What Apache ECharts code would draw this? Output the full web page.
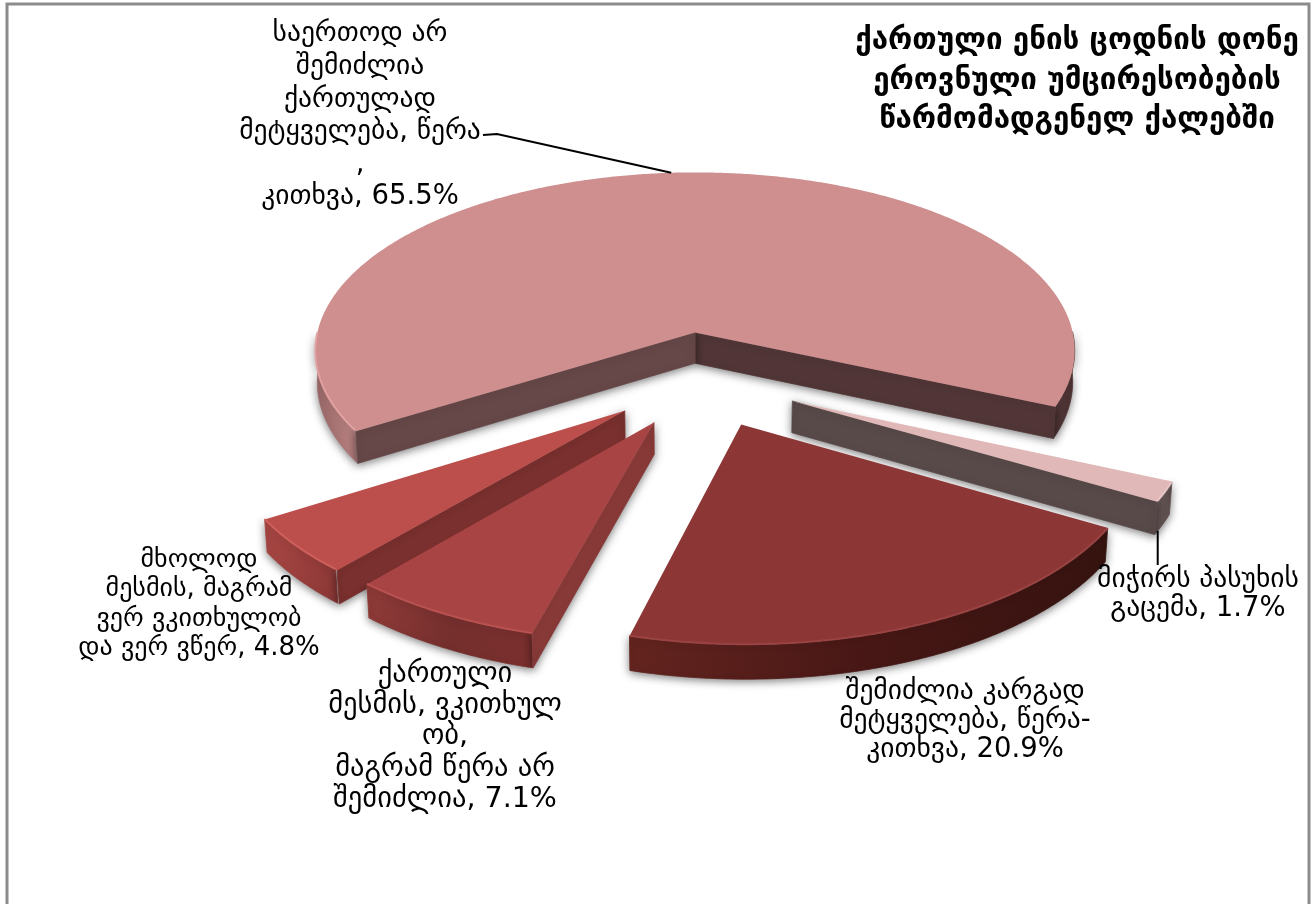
<!DOCTYPE html>
<html>
<head>
<meta charset="utf-8">
<title>ქართული ენის ცოდნის დონე</title>
<style>
html, body { margin: 0; padding: 0; background: #fff; }
#main { width: 1312px; height: 904px; }
</style>
<script src="https://cdn.jsdelivr.net/npm/echarts@6/dist/echarts.min.js"></script>
</head>
<body>
<div id="main"></div>
<script>
var chartTitle = 'ქართული ენის ცოდნის დონე\nეროვნული უმცირესობების\nწარმომადგენელ ქალებში';
var categories = [
    'საერთოდ არ\nშემიძლია\nქართულად\nმეტყველება, წერა\n,\nკითხვა, 65.5%',
    'მიჭირს პასუხის\nგაცემა, 1.7%',
    'შემიძლია კარგად\nმეტყველება, წერა-\nკითხვა, 20.9%',
    'ქართული\nმესმის, ვკითხულ\nობ,\nმაგრამ წერა არ\nშემიძლია, 7.1%',
    'მხოლოდ\nმესმის, მაგრამ\nვერ ვკითხულობ\nდა ვერ ვწერ, 4.8%'
];
var values = [65.5, 1.7, 20.9, 7.1, 4.8];

// the look of each slice, same order as values
var topColors = ['#cf8f8f', '#e0b8b8', '#8c3636', '#a84444', '#bc4f4c'];
var edgeColors = ['#eba9a9', '#efd0d0', '#a04848', '#c05656', '#d66460'];
var cutColors = [['#523637', '#674849'], ['#594a4a'], [], ['#893a38'], ['#7a302e']];
// first run is the right hand one for the big slice
var rimColors = [
    [['#523637', '#4c3233'], ['#9a6868', '#b98181']],
    [['#6a5a5a', '#5c4c4c']],
    [['#64241f', '#471715', '#36130f']],
    [['#8f3a38', '#752f2d', '#7a2f2d']],
    [['#a84643', '#8c3836']]
];
// where the labels sit: centre x, top y, line height, font size
var labelBoxes = [
    { x: 360, y: 18, lh: 32.6, fs: 27.5 },
    { x: 1198, y: 565, lh: 29.5, fs: 27.5 },
    { x: 965, y: 677, lh: 29, fs: 27.5 },
    { x: 445, y: 659, lh: 31.2, fs: 28.5 },
    { x: 199, y: 545, lh: 29.5, fs: 26 }
];
// leader lines start here and run to the rim of the slice, at a share of the arc
var leaders = [
    { from: [[483, 135], [497, 134]], at: 0.5, bottom: false },
    { drop: 565, at: 0.18, bottom: true },
    null, null, null
];

// pie geometry
var firstAngle = 212;
var radius = 388;
var explode = 100;
var thickness = 36;
var centerX = 702;
var centerY = 379;
var tilt = 28.7 * Math.PI / 180;
var camera = 3200;

function project(x, y, z) {
    var up = y * Math.sin(tilt) + z * Math.cos(tilt);
    var depth = y * Math.cos(tilt) - z * Math.sin(tilt);
    var s = camera / (camera + depth);
    return [centerX + x * s, centerY - up * s];
}

function rad(a) { return a * Math.PI / 180; }

var sum = values.reduce(function (a, b) { return a + b; }, 0);

function sliceInfo(idx) {
    var a = firstAngle;
    for (var i = 0; i < idx; i++) a -= values[i] / sum * 360;
    var a2 = a;
    var a1 = a - values[idx] / sum * 360;
    var mid = (a1 + a2) / 2;
    return {
        a1: a1, a2: a2, mid: mid,
        ox: explode * Math.cos(rad(mid)),
        oy: explode * Math.sin(rad(mid))
    };
}

function rimPoint(info, a, z) {
    return project(info.ox + radius * Math.cos(rad(a)), info.oy + radius * Math.sin(rad(a)), z);
}

function apex(info, z) {
    return project(info.ox, info.oy, z);
}

function renderSlice(params, api) {
    var idx = params.dataIndex;
    var info = sliceInfo(idx);
    var kids = [];
    var z2 = Math.round(200 - info.oy);
    var shadow = { shadowColor: 'rgba(0,0,0,0.5)', shadowBlur: 8, shadowOffsetX: 0, shadowOffsetY: 2 };

    // cut faces, only those turned to the viewer
    var cuts = [];
    if (Math.sin(rad(info.a1 - 90)) < 0) cuts.push(info.a1);
    if (Math.sin(rad(info.a2 + 90)) < 0) cuts.push(info.a2);

    // outer wall, split in runs where the rim faces us
    var runs = [], run = null;
    for (var a = info.a1; a <= info.a2 + 0.001; a += 0.5) {
        if (Math.sin(rad(a)) < 0.004) {
            if (!run) { run = []; runs.push(run); }
            run.push(a);
        } else {
            run = null;
        }
    }
    runs.forEach(function (r, i) {
        var upper = r.map(function (a) { return rimPoint(info, a, 0); });
        var lower = r.map(function (a) { return rimPoint(info, a, -thickness); }).reverse();
        var xs = upper.map(function (p) { return p[0]; });
        var x0 = Math.min.apply(null, xs), x1 = Math.max.apply(null, xs);
        var cols = rimColors[idx][i];
        var stops = cols.map(function (c, k) { return { offset: k / (cols.length - 1), color: c }; });
        var grad = new echarts.graphic.LinearGradient(x0, 0, x1 + 0.01, 0, stops, true);
        kids.push({
            type: 'polygon', z2: z2,
            shape: { points: upper.concat(lower) },
            style: Object.assign({ fill: grad, stroke: grad, lineWidth: 0.8 }, shadow)
        });
    });

    cuts.forEach(function (a, i) {
        kids.push({
            type: 'polygon', z2: z2,
            shape: { points: [apex(info, 0), rimPoint(info, a, 0), rimPoint(info, a, -thickness), apex(info, -thickness)] },
            style: Object.assign({ fill: cutColors[idx][i], stroke: cutColors[idx][i], lineWidth: 0.8 }, shadow)
        });
    });

    // top of the slice
    var top = [apex(info, 0)];
    for (var b = info.a1; b <= info.a2; b += 0.5) top.push(rimPoint(info, b, 0));
    top.push(rimPoint(info, info.a2, 0));
    kids.push({ type: 'polygon', z2: z2, shape: { points: top }, style: { fill: topColors[idx] } });

    // thin light bevel along the front of the arc, the dark right side of the big slice has none
    runs.forEach(function (r, i) {
        if (idx === 0 && i === 0) return;
        kids.push({
            type: 'polyline', z2: z2,
            shape: { points: r.map(function (a) { return rimPoint(info, a, 0.5); }) },
            style: { fill: 'none', stroke: edgeColors[idx], lineWidth: 2, opacity: 0.75 }
        });
    });

    // leader line
    var lead = leaders[idx];
    if (lead) {
        var end = rimPoint(info, info.a1 + (info.a2 - info.a1) * lead.at, lead.bottom ? -thickness : 0);
        var start = lead.from || [[end[0], lead.drop]];
        kids.push({
            type: 'polyline', z2: 500,
            shape: { points: start.concat([end]) },
            style: { fill: 'none', stroke: '#000', lineWidth: 2 }
        });
    }

    // label
    var box = labelBoxes[idx];
    kids.push({
        type: 'text', z2: 600,
        style: {
            text: categories[idx], x: box.x, y: box.y,
            align: 'center', verticalAlign: 'top',
            fontFamily: 'DejaVu Sans', fontSize: box.fs, lineHeight: box.lh, fill: '#000'
        }
    });

    return { type: 'group', children: kids };
}

var myChart = echarts.init(document.getElementById('main'));
var option = {
    backgroundColor: '#fff',
    animation: false,
    title: {
        text: chartTitle,
        left: 1072,
        top: 17,
        textAlign: 'center',
        textStyle: {
            fontFamily: 'DejaVu Sans',
            fontSize: 29.5,
            fontWeight: 'bold',
            lineHeight: 39.5,
            color: '#000'
        }
    },
    graphic: [{
        type: 'rect',
        silent: true,
        shape: { x: 7, y: 4, width: 1302, height: 1000 },
        style: { fill: 'none', stroke: '#8c8c8c', lineWidth: 3 }
    }],
    series: [{
        type: 'custom',
        coordinateSystem: 'none',
        silent: true,
        renderItem: renderSlice,
        data: values
    }]
};
myChart.setOption(option);
</script>
</body>
</html>
